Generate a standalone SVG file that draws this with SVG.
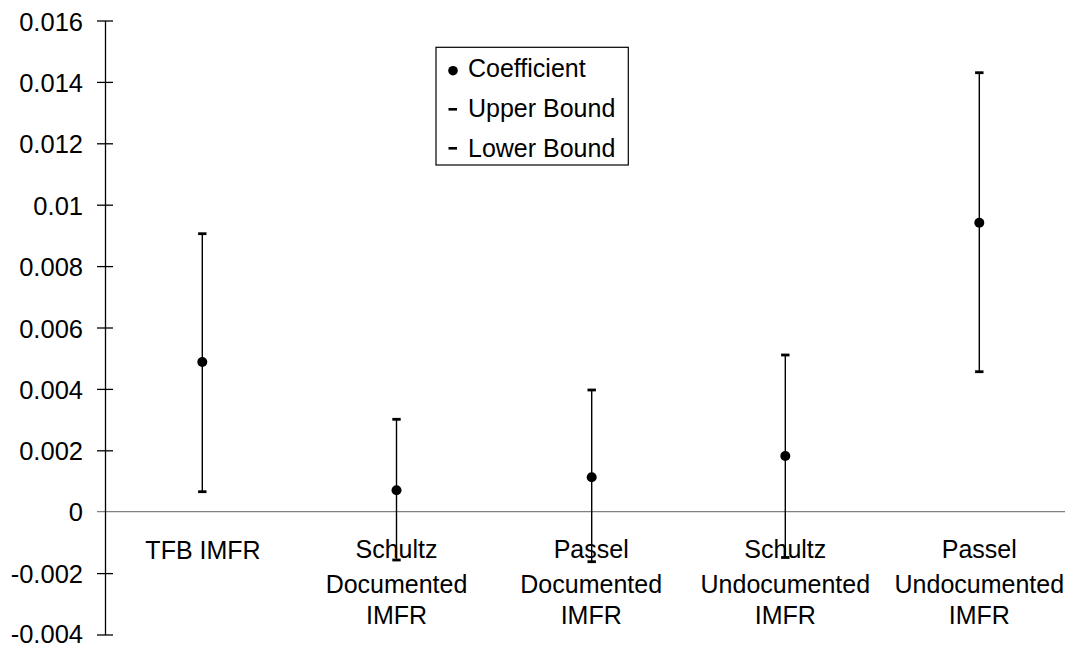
<svg xmlns="http://www.w3.org/2000/svg" width="1065" height="646" viewBox="0 0 1065 646">
<style>
text{font-family:"Liberation Sans",Arial,sans-serif;fill:#000}
.tick{font-size:25.5px;text-anchor:end}
.cat{font-size:25px;text-anchor:middle}
.leg{font-size:25px}
.axis{stroke:#000;stroke-width:1.3;fill:none}
.zero{stroke:#808080;stroke-width:1.3}
.bar{stroke:#000;stroke-width:1.4}
.cap{fill:#000}
</style>
<defs>
<rect id="capm" x="-4.2" y="-1.4" width="8.4" height="2.8" class="cap"/>
</defs>
<rect width="1065" height="646" fill="#fff"/>
<g id="axis">
<line class="zero" x1="97" y1="511.7" x2="1065" y2="511.7"/>
<line class="axis" x1="105.5" y1="21" x2="105.5" y2="635"/>
<g class="axis">
<line x1="97" y1="21" x2="113" y2="21"/>
<line x1="97" y1="82.4" x2="113" y2="82.4"/>
<line x1="97" y1="143.8" x2="113" y2="143.8"/>
<line x1="97" y1="205.2" x2="113" y2="205.2"/>
<line x1="97" y1="266.6" x2="113" y2="266.6"/>
<line x1="97" y1="328" x2="113" y2="328"/>
<line x1="97" y1="389.4" x2="113" y2="389.4"/>
<line x1="97" y1="450.8" x2="113" y2="450.8"/>
<line x1="97" y1="573.6" x2="113" y2="573.6"/>
<line x1="97" y1="635" x2="113" y2="635"/>
</g>
<text class="tick" x="83" y="30.5">0.016</text>
<text class="tick" x="83" y="91.9">0.014</text>
<text class="tick" x="83" y="153.3">0.012</text>
<text class="tick" x="83" y="214.7">0.01</text>
<text class="tick" x="83" y="276.1">0.008</text>
<text class="tick" x="83" y="337.5">0.006</text>
<text class="tick" x="83" y="398.9">0.004</text>
<text class="tick" x="83" y="460.3">0.002</text>
<text class="tick" x="83" y="521.2">0</text>
<text class="tick" x="83" y="583.1">-0.002</text>
<text class="tick" x="83" y="642.5">-0.004</text>
</g>
<g id="labels">
<text class="cat" x="203" y="559">TFB IMFR</text>
<text class="cat" x="396.5" y="558.3">Schultz<tspan x="396.5" dy="34.5">Documented</tspan><tspan x="396.5" dy="31">IMFR</tspan></text>
<text class="cat" x="591.2" y="558.3">Passel<tspan x="591.2" dy="34.5">Documented</tspan><tspan x="591.2" dy="31">IMFR</tspan></text>
<text class="cat" x="785.3" y="558.3">Schultz<tspan x="785.3" dy="34.5">Undocumented</tspan><tspan x="785.3" dy="31">IMFR</tspan></text>
<text class="cat" x="979.3" y="558.3">Passel<tspan x="979.3" dy="34.5">Undocumented</tspan><tspan x="979.3" dy="31">IMFR</tspan></text>
</g>
<g id="connectors">
<line class="bar" x1="202.3" y1="233.7" x2="202.3" y2="491.7"/>
<line class="bar" x1="396.5" y1="419.3" x2="396.5" y2="560"/>
<line class="bar" x1="591.7" y1="390" x2="591.7" y2="561.7"/>
<line class="bar" x1="785.3" y1="355" x2="785.3" y2="557.5"/>
<line class="bar" x1="979.3" y1="72.7" x2="979.3" y2="371.7"/>
</g>
<g id="tfb">
<use href="#capm" x="202.3" y="233.7"/><use href="#capm" x="202.3" y="491.7"/>
<circle cx="202.3" cy="362" r="5"/>
</g>
<g id="schultz-doc">
<use href="#capm" x="396.5" y="419.3"/><use href="#capm" x="396.5" y="560"/>
<circle cx="396.5" cy="490.3" r="5"/>
</g>
<g id="passel-doc">
<use href="#capm" x="591.7" y="390"/><use href="#capm" x="591.7" y="561.7"/>
<circle cx="591.7" cy="477.3" r="5"/>
</g>
<g id="schultz-undoc">
<use href="#capm" x="785.3" y="355"/><use href="#capm" x="785.3" y="557.5"/>
<circle cx="785.3" cy="456" r="5"/>
</g>
<g id="passel-undoc">
<use href="#capm" x="979.3" y="72.7"/><use href="#capm" x="979.3" y="371.7"/>
<circle cx="979.3" cy="222.7" r="5"/>
</g>
<g id="legend">
<rect x="436" y="47.3" width="192.3" height="117.7" fill="#fff" stroke="#000" stroke-width="1.2"/>
<circle cx="453" cy="70.7" r="4.8"/>
<text class="leg" x="468" y="77.3">Coefficient</text>
<rect x="448.5" y="108" width="8.5" height="2.6" class="cap"/>
<text class="leg" x="468" y="117.3">Upper Bound</text>
<rect x="448.5" y="147" width="8.5" height="2.6" class="cap"/>
<text class="leg" x="468" y="156.7">Lower Bound</text>
</g>
</svg>
